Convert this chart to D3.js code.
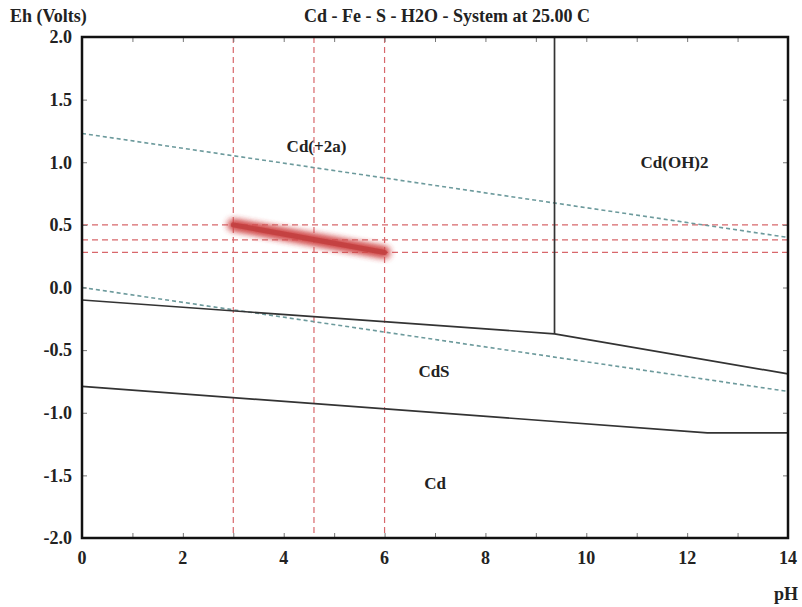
<!DOCTYPE html>
<html>
<head>
<meta charset="utf-8">
<script src="https://cdn.jsdelivr.net/npm/d3@7"></script>
<style>
  body { margin: 0; background: #fff; }
  text { font-family: "Liberation Serif", "DejaVu Serif", serif; font-weight: bold; fill: #222; }
</style>
</head>
<body>
<div id="wrapper"></div>
<script>
// chart values
const phTicks = [0, 2, 4, 6, 8, 10, 12, 14]
const ehTicks = [-2.0, -1.5, -1.0, -0.5, 0.0, 0.5, 1.0, 1.5, 2.0]

const waterUpper = [[0, 1.23], [14, 0.40]]
const waterLower = [[0, 0.0], [14, -0.83]]
const cd2CdsBoundary = [[0, -0.10], [9.37, -0.37], [14, -0.69]]
const cdsCdBoundary = [[0, -0.79], [12.4, -1.16], [14, -1.16]]
const cd2CdOH2Boundary = [[9.37, 2.0], [9.37, -0.37]]

const refPH = [3, 4.6, 6]
const refEh = [0.5, 0.38, 0.28]
const trend = [[3, 0.5], [6, 0.28]]

const fieldNames = ["Cd(+2a)", "Cd(OH)2", "CdS", "Cd"]
const fieldPH = [4.65, 11.75, 6.98, 7.0]
const fieldEh = [1.13, 1.0, -0.67, -1.56]

function drawChart() {
  let dimensions = {
    width: 802,
    height: 607,
    margin: { top: 37, right: 14, bottom: 69, left: 82 },
  }
  dimensions.boundedWidth = dimensions.width
    - dimensions.margin.left
    - dimensions.margin.right
  dimensions.boundedHeight = dimensions.height
    - dimensions.margin.top
    - dimensions.margin.bottom

  const wrapper = d3.select("#wrapper")
    .append("svg")
      .attr("width", dimensions.width)
      .attr("height", dimensions.height)

  const defs = wrapper.append("defs")
  const glow = defs.append("filter")
      .attr("id", "glow")
      .attr("x", "-20%").attr("y", "-200%")
      .attr("width", "140%").attr("height", "500%")
  glow.append("feGaussianBlur")
      .attr("in", "SourceGraphic")
      .attr("stdDeviation", 3.5)
      .attr("result", "blur")
  const merge = glow.append("feMerge")
  merge.append("feMergeNode").attr("in", "blur")
  merge.append("feMergeNode").attr("in", "blur")

  const bounds = wrapper.append("g")
      .attr("transform", `translate(${dimensions.margin.left}, ${dimensions.margin.top})`)

  const xScale = d3.scaleLinear()
    .domain([0, 14])
    .range([0, dimensions.boundedWidth])

  const yScale = d3.scaleLinear()
    .domain([-2, 2])
    .range([dimensions.boundedHeight, 0])

  const line = d3.line()
    .x(d => xScale(d[0]))
    .y(d => yScale(d[1]))

  // red reference grid
  bounds.selectAll(".refV")
      .data(refPH)
    .join("line")
      .attr("x1", d => xScale(d)).attr("x2", d => xScale(d))
      .attr("y1", 0).attr("y2", dimensions.boundedHeight)
      .attr("stroke", "#d8676b")
      .attr("stroke-width", 1.2)
      .attr("stroke-dasharray", "6,4")

  bounds.selectAll(".refH")
      .data(refEh)
    .join("line")
      .attr("x1", 0).attr("x2", dimensions.boundedWidth)
      .attr("y1", d => yScale(d)).attr("y2", d => yScale(d))
      .attr("stroke", "#d8676b")
      .attr("stroke-width", 1.2)
      .attr("stroke-dasharray", "6,4")

  // water stability lines
  bounds.selectAll(".water")
      .data([waterUpper, waterLower])
    .join("path")
      .attr("d", line)
      .attr("fill", "none")
      .attr("stroke", "#6c9a9c")
      .attr("stroke-width", 1.6)
      .attr("stroke-dasharray", "4,3")

  // field boundaries
  bounds.selectAll(".boundary")
      .data([cd2CdsBoundary, cdsCdBoundary, cd2CdOH2Boundary])
    .join("path")
      .attr("d", line)
      .attr("fill", "none")
      .attr("stroke", "#333")
      .attr("stroke-width", 1.7)

  // highlighted trend
  bounds.append("path")
      .datum(trend)
      .attr("d", line)
      .attr("fill", "none")
      .attr("stroke", "#d0484a")
      .attr("stroke-width", 9)
      .attr("stroke-linecap", "round")
      .attr("filter", "url(#glow)")
  bounds.append("path")
      .datum(trend)
      .attr("d", line)
      .attr("fill", "none")
      .attr("stroke", "#c23f3f")
      .attr("stroke-width", 5)
      .attr("stroke-linecap", "round")
      .attr("opacity", 0.85)

  // field labels
  bounds.selectAll(".field")
      .data(fieldNames)
    .join("text")
      .attr("x", (d, i) => xScale(fieldPH[i]))
      .attr("y", (d, i) => yScale(fieldEh[i]))
      .attr("text-anchor", "middle")
      .attr("dy", "0.35em")
      .style("font-size", "17px")
      .text(d => d)

  // axes: ticks inside the frame
  const xBottom = d3.axisBottom(xScale).ticks(14).tickSize(-5).tickFormat("")
  const xTop = d3.axisTop(xScale).ticks(14).tickSize(-5).tickFormat("")
  const yLeft = d3.axisLeft(yScale).tickValues(ehTicks).tickSize(-5).tickFormat("")
  const yRight = d3.axisRight(yScale).tickValues(ehTicks).tickSize(-5).tickFormat("")

  const axes = [
    bounds.append("g").attr("transform", `translate(0, ${dimensions.boundedHeight})`).call(xBottom),
    bounds.append("g").call(xTop),
    bounds.append("g").call(yLeft),
    bounds.append("g").attr("transform", `translate(${dimensions.boundedWidth}, 0)`).call(yRight),
  ]
  axes.forEach(a => {
    a.select(".domain").remove()
    a.selectAll(".tick line").attr("stroke", "#777").attr("stroke-width", 1)
  })

  bounds.append("rect")
      .attr("width", dimensions.boundedWidth)
      .attr("height", dimensions.boundedHeight)
      .attr("fill", "none")
      .attr("stroke", "#111")
      .attr("stroke-width", 2.5)

  // tick labels
  bounds.selectAll(".xlab")
      .data(phTicks)
    .join("text")
      .attr("x", d => xScale(d))
      .attr("y", dimensions.boundedHeight + 26)
      .attr("text-anchor", "middle")
      .style("font-size", "18px")
      .text(d => d)

  bounds.selectAll(".ylab")
      .data(ehTicks)
    .join("text")
      .attr("x", -10)
      .attr("y", d => yScale(d))
      .attr("dy", "0.35em")
      .attr("text-anchor", "end")
      .style("font-size", "18px")
      .text(d => d.toFixed(1))

  // titles
  wrapper.append("text")
      .attr("x", 447)
      .attr("y", 22)
      .attr("text-anchor", "middle")
      .style("font-size", "18px")
      .text("Cd - Fe - S - H2O - System at 25.00 C")

  wrapper.append("text")
      .attr("x", 10)
      .attr("y", 22)
      .style("font-size", "18px")
      .text("Eh (Volts)")

  wrapper.append("text")
      .attr("x", 798)
      .attr("y", 600)
      .attr("text-anchor", "end")
      .style("font-size", "18px")
      .text("pH")
}

drawChart()
</script>
</body>
</html>
